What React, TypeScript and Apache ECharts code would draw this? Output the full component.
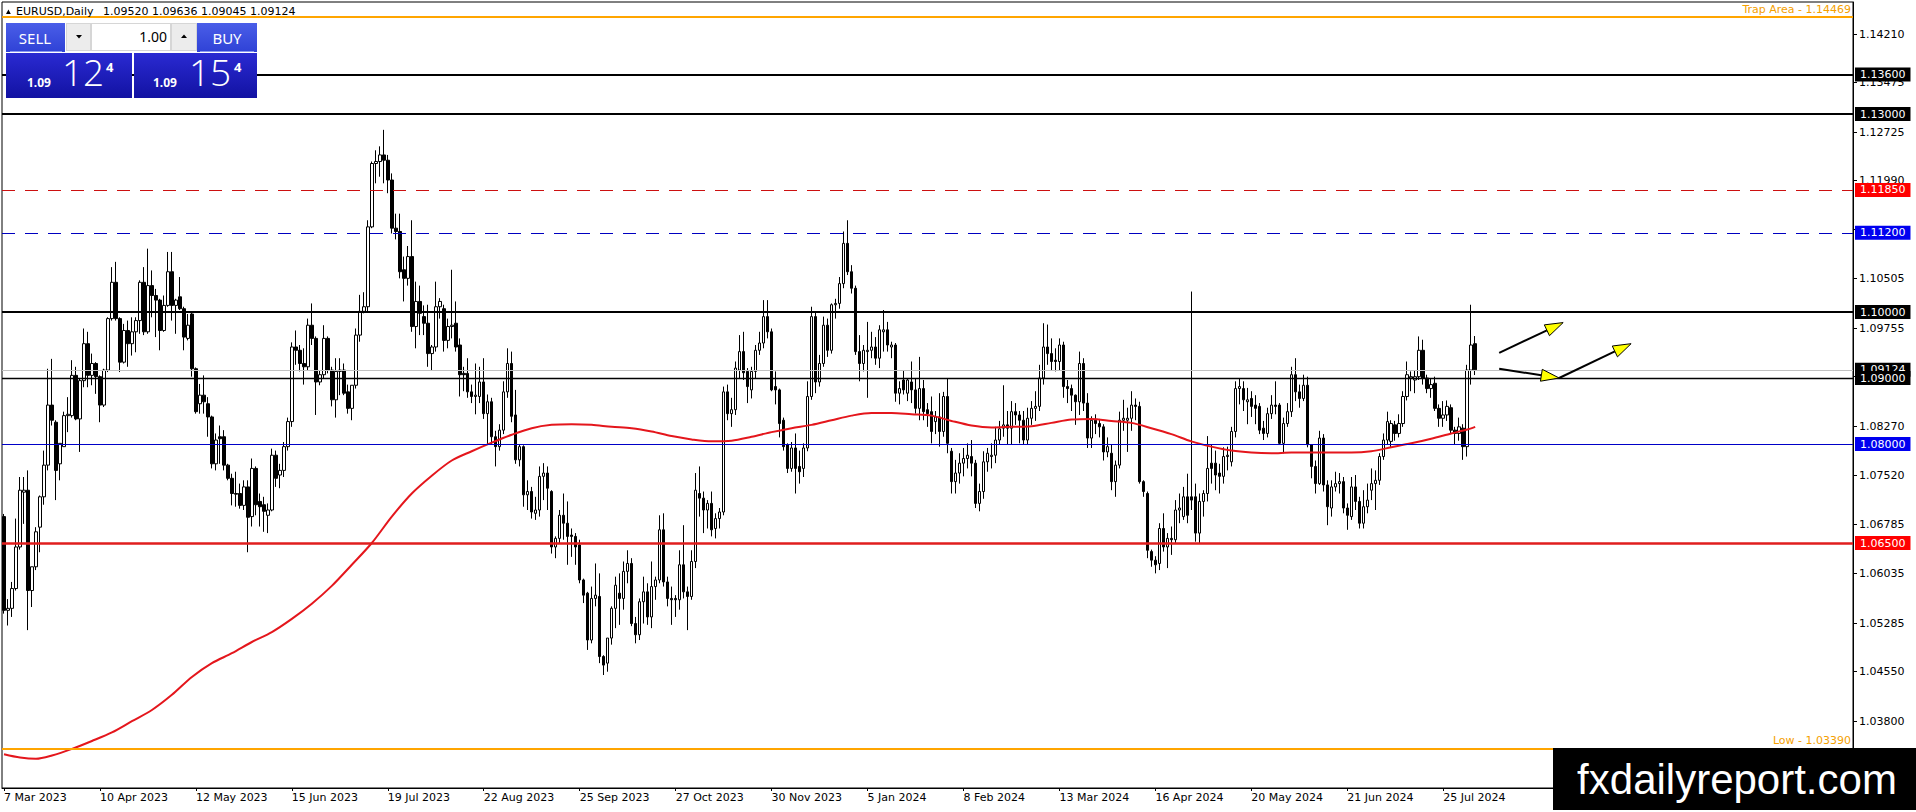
import React, { useEffect, useRef } from "react";
import * as echarts from "echarts";

// ---------------- DATA ----------------
const SYMBOL = "EURUSD,Daily";
const HEADER_QUOTE = "1.09520 1.09636 1.09045 1.09124";
const FIRST_DAY = [2023, 2, 7]; // 7 Mar 2023
const SKIPPED_DAYS = ["2023-12-25", "2024-01-01"];
const LABEL_EVERY = 24;
const TOTAL_SLOTS = 463;

const opens = [
  1.0690,1.0548,1.0551,1.0581,1.0644,1.0727,1.0730,1.0578,1.0614,1.0674,
  1.0720,1.0768,1.0859,1.0833,1.0770,1.0796,1.0843,1.0843,1.0904,1.0838,
  1.0896,1.0952,1.0904,1.0922,1.0902,1.0859,1.0912,1.0990,1.1045,1.0990,
  1.0924,1.0972,1.0952,1.0970,1.0987,1.1045,1.0970,1.1040,1.1025,1.1018,
  1.0972,1.1010,1.1061,1.1010,1.1023,1.1005,1.0960,1.0997,1.0914,1.0861,
  1.0874,1.0861,1.0841,1.0770,1.0811,1.0811,1.0768,1.0748,1.0725,1.0725,
  1.0707,1.0735,1.0690,1.0763,1.0713,1.0708,1.0692,1.0700,1.0783,1.0753,
  1.0760,1.0796,1.0834,1.0947,1.0942,1.0922,1.0917,1.0980,1.0960,1.0894,
  1.0905,1.0960,1.0912,1.0867,1.0910,1.0912,1.0879,1.0854,1.0889,1.0965,
  1.1001,1.1008,1.1129,1.1225,1.1228,1.1238,1.1230,1.1200,1.1127,1.1122,
  1.1064,1.1051,1.1084,1.0978,1.1016,1.0993,1.0983,1.0937,1.0947,1.1008,
  1.1005,1.0957,1.0978,1.0983,1.0950,1.0907,1.0907,1.0879,1.0872,1.0872,
  1.0894,1.0846,1.0864,1.0811,1.0796,1.0821,1.0879,1.0922,1.0844,1.0776,
  1.0796,1.0723,1.0728,1.0695,1.0700,1.0751,1.0756,1.0728,1.0644,1.0657,
  1.0692,1.0680,1.0662,1.0660,1.0647,1.0594,1.0574,1.0503,1.0566,1.0569,
  1.0478,1.0468,1.0506,1.0551,1.0574,1.0566,1.0607,1.0619,1.0528,1.0511,
  1.0561,1.0576,1.0538,1.0584,1.0594,1.0670,1.0591,1.0566,1.0566,1.0564,
  1.0617,1.0576,1.0569,1.0622,1.0725,1.0718,1.0700,1.0710,1.0672,1.0687,
  1.0697,1.0879,1.0846,1.0852,1.0912,1.0940,1.0910,1.0882,1.0910,1.0942,
  1.0953,1.0993,1.0970,1.0887,1.0882,1.0836,1.0799,1.0763,1.0794,1.0766,
  1.0763,1.0794,1.0872,1.0993,1.0894,1.0922,1.0980,1.0942,1.1011,1.1013,
  1.1043,1.1104,1.1061,1.1036,1.0940,1.0922,1.0940,1.0942,1.0947,1.0930,
  1.0970,1.0973,1.0947,1.0950,1.0877,1.0897,1.0877,1.0894,1.0882,1.0854,
  1.0884,1.0852,1.0849,1.0834,1.0841,1.0819,1.0872,1.0789,1.0743,1.0756,
  1.0771,1.0778,1.0781,1.0771,1.0710,1.0728,1.0773,1.0781,1.0783,1.0806,
  1.0824,1.0829,1.0824,1.0849,1.0844,1.0836,1.0806,1.0839,1.0854,1.0857,
  1.0900,1.0947,1.0937,1.0927,1.0925,1.0950,1.0887,1.0884,1.0874,1.0864,
  1.0922,1.0862,1.0809,1.0836,1.0831,1.0826,1.0788,1.0786,1.0743,1.0768,
  1.0836,1.0836,1.0839,1.0859,1.0857,1.0743,1.0725,1.0637,1.0624,1.0619,
  1.0672,1.0644,1.0657,1.0655,1.0700,1.0690,1.0720,1.0720,1.0720,1.0665,
  1.0713,1.0725,1.0771,1.0771,1.0756,1.0751,1.0781,1.0773,1.0819,1.0884,
  1.0884,1.0864,1.0869,1.0859,1.0857,1.0824,1.0816,1.0846,1.0859,1.0859,
  1.0801,1.0831,1.0849,1.0905,1.0879,1.0869,1.0889,1.0799,1.0766,1.0740,
  1.0809,1.0738,1.0703,1.0735,1.0740,1.0743,1.0703,1.0690,1.0735,1.0713,
  1.0680,1.0705,1.0730,1.0740,1.0745,1.0781,1.0806,1.0804,1.0829,1.0816,
  1.0831,1.0872,1.0900,1.0897,1.0902,1.0942,1.0900,1.0884,1.0892,1.0854,
  1.0839,1.0844,1.0855,1.0821,1.0816,1.0824,1.0796,1.0912,1.09520,
];

const highs = [
  1.0694,1.0565,1.0591,1.0687,1.0750,1.0750,1.0760,1.0614,1.0674,1.0722,
  1.0790,1.0914,1.0929,1.0836,1.0801,1.0849,1.0871,1.0927,1.0917,1.0899,
  1.0975,1.0970,1.0937,1.0924,1.0904,1.0914,1.0992,1.1068,1.1076,1.0992,
  1.0982,1.0987,1.0992,1.0992,1.1048,1.1068,1.1096,1.1063,1.1035,1.1020,
  1.1025,1.1091,1.1091,1.1020,1.1053,1.1008,1.0997,1.0999,1.0916,1.0891,
  1.0904,1.0871,1.0843,1.0816,1.0828,1.0821,1.0770,1.0755,1.0758,1.0740,
  1.0745,1.0745,1.0778,1.0766,1.0725,1.0720,1.0710,1.0793,1.0790,1.0770,
  1.0803,1.0840,1.0954,1.0972,1.0950,1.0945,1.0990,1.1013,1.0963,1.0912,
  1.0980,1.0963,1.0917,1.0930,1.0930,1.0922,1.0890,1.0889,1.0975,1.1026,
  1.1030,1.1139,1.1228,1.1245,1.1251,1.1276,1.1238,1.1210,1.1149,1.1149,
  1.1084,1.1100,1.1139,1.1046,1.1040,1.1010,1.1011,1.0950,1.1046,1.1021,
  1.1011,1.0990,1.1064,1.1016,1.0960,1.0917,1.0930,1.0890,1.0922,1.0917,
  1.0930,1.0875,1.0870,1.0820,1.0830,1.0895,1.0945,1.0940,1.0882,1.0800,
  1.0798,1.0745,1.0735,1.0720,1.0766,1.0771,1.0766,1.0730,1.0660,1.0700,
  1.0725,1.0713,1.0672,1.0665,1.0655,1.0596,1.0576,1.0584,1.0619,1.0604,
  1.0480,1.0506,1.0554,1.0599,1.0604,1.0622,1.0639,1.0627,1.0538,1.0566,
  1.0599,1.0589,1.0622,1.0599,1.0692,1.0695,1.0599,1.0584,1.0571,1.0639,
  1.0677,1.0584,1.0639,1.0756,1.0766,1.0728,1.0715,1.0728,1.0695,1.0703,
  1.0887,1.0890,1.0870,1.0925,1.0965,1.0970,1.0915,1.0917,1.0950,1.0970,
  1.1018,1.1018,1.0975,1.0910,1.0884,1.0840,1.0801,1.0803,1.0816,1.0790,
  1.0801,1.0895,1.1008,1.1001,1.0935,1.0993,1.0990,1.1013,1.1020,1.1053,
  1.1122,1.1139,1.1071,1.1040,1.0965,1.0950,1.0985,1.0970,1.0962,1.0980,
  1.1003,1.0985,1.0955,1.0953,1.0895,1.0912,1.0900,1.0925,1.0900,1.0932,
  1.0897,1.0862,1.0872,1.0850,1.0877,1.0879,1.0900,1.0794,1.0776,1.0786,
  1.0794,1.0801,1.0806,1.0776,1.0740,1.0789,1.0794,1.0801,1.0826,1.0835,
  1.0889,1.0850,1.0865,1.0862,1.0850,1.0850,1.0855,1.0865,1.0880,1.0920,
  1.0983,1.0981,1.0960,1.0945,1.0960,1.0955,1.0897,1.0890,1.0875,1.0940,
  1.0930,1.0877,1.0842,1.0845,1.0838,1.0830,1.0810,1.0800,1.0775,1.0849,
  1.0867,1.0855,1.0880,1.0869,1.0864,1.0745,1.0728,1.0640,1.0630,1.0680,
  1.0695,1.0665,1.0675,1.0715,1.0725,1.0735,1.0755,1.1031,1.0740,1.0725,
  1.0730,1.0812,1.0800,1.0790,1.0770,1.0795,1.0796,1.0826,1.0895,1.0900,
  1.0895,1.0885,1.0880,1.0874,1.0862,1.0835,1.0855,1.0874,1.0895,1.0862,
  1.0840,1.0862,1.0917,1.0930,1.0890,1.0905,1.0902,1.0800,1.0775,1.0820,
  1.0815,1.0745,1.0745,1.0758,1.0756,1.0750,1.0710,1.0750,1.0753,1.0720,
  1.0730,1.0740,1.0763,1.0760,1.0786,1.0816,1.0849,1.0836,1.0835,1.0845,
  1.0880,1.0925,1.0910,1.0912,1.0963,1.0958,1.0905,1.0900,1.0902,1.0860,
  1.0865,1.0866,1.0860,1.0826,1.0840,1.0830,1.0920,1.1011,1.09636,
];

const lows = [
  1.0543,1.0525,1.0538,1.0578,1.0640,1.0679,1.0518,1.0553,1.0609,1.0636,
  1.0708,1.0760,1.0828,1.0715,1.0745,1.0796,1.0818,1.0840,1.0836,1.0788,
  1.0886,1.0886,1.0889,1.0876,1.0833,1.0856,1.0909,1.0987,1.0987,1.0909,
  1.0922,1.0917,1.0934,1.0939,1.0967,1.0965,1.0967,1.0992,1.0962,1.0942,
  1.0970,1.1008,1.0987,1.0967,1.1003,1.0942,1.0957,1.0902,1.0846,1.0846,
  1.0846,1.0811,1.0763,1.0760,1.0770,1.0760,1.0745,1.0707,1.0705,1.0702,
  1.0700,1.0636,1.0675,1.0692,1.0675,1.0667,1.0665,1.0698,1.0735,1.0733,
  1.0750,1.0790,1.0826,1.0920,1.0910,1.0890,1.0912,1.0950,1.0844,1.0889,
  1.0900,1.0907,1.0857,1.0840,1.0874,1.0874,1.0846,1.0836,1.0884,1.0955,
  1.0998,1.1001,1.1127,1.1195,1.1205,1.1195,1.1180,1.1119,1.1110,1.1051,
  1.1016,1.1040,1.0970,1.0945,1.0965,1.0965,1.0917,1.0912,1.0940,1.0990,
  1.0940,1.0945,1.0960,1.0940,1.0872,1.0880,1.0870,1.0862,1.0845,1.0862,
  1.0838,1.0800,1.0800,1.0766,1.0790,1.0815,1.0870,1.0833,1.0770,1.0766,
  1.0705,1.0700,1.0687,1.0685,1.0690,1.0715,1.0700,1.0634,1.0627,1.0650,
  1.0655,1.0617,1.0629,1.0617,1.0589,1.0559,1.0488,1.0498,1.0554,1.0468,
  1.0450,1.0455,1.0496,1.0521,1.0526,1.0549,1.0589,1.0524,1.0498,1.0503,
  1.0528,1.0526,1.0521,1.0564,1.0589,1.0584,1.0554,1.0526,1.0538,1.0549,
  1.0566,1.0518,1.0564,1.0612,1.0690,1.0665,1.0672,1.0660,1.0657,1.0672,
  1.0692,1.0836,1.0826,1.0844,1.0900,1.0897,1.0862,1.0869,1.0900,1.0935,
  1.0945,1.0960,1.0880,1.0860,1.0810,1.0790,1.0756,1.0758,1.0725,1.0740,
  1.0750,1.0789,1.0867,1.0877,1.0887,1.0917,1.0932,1.0937,1.0990,1.1005,
  1.1036,1.1056,1.1028,1.0935,1.0895,1.0910,1.0870,1.0930,1.0920,1.0915,
  1.0940,1.0940,1.0930,1.0864,1.0860,1.0875,1.0865,1.0862,1.0846,1.0836,
  1.0836,1.0826,1.0801,1.0815,1.0796,1.0811,1.0786,1.0725,1.0725,1.0740,
  1.0751,1.0763,1.0751,1.0703,1.0698,1.0717,1.0758,1.0763,1.0771,1.0800,
  1.0811,1.0800,1.0799,1.0829,1.0801,1.0799,1.0800,1.0829,1.0835,1.0850,
  1.0890,1.0920,1.0912,1.0910,1.0912,1.0870,1.0862,1.0850,1.0829,1.0844,
  1.0850,1.0794,1.0794,1.0815,1.0810,1.0775,1.0780,1.0730,1.0720,1.0763,
  1.0820,1.0788,1.0820,1.0836,1.0740,1.0720,1.0627,1.0614,1.0604,1.0609,
  1.0637,1.0612,1.0632,1.0650,1.0680,1.0685,1.0680,1.0700,1.0652,1.0650,
  1.0690,1.0713,1.0740,1.0730,1.0725,1.0740,1.0760,1.0766,1.0810,1.0860,
  1.0850,1.0830,1.0841,1.0830,1.0815,1.0806,1.0810,1.0838,1.0845,1.0800,
  1.0786,1.0826,1.0841,1.0865,1.0855,1.0865,1.0795,1.0748,1.0725,1.0738,
  1.0728,1.0677,1.0690,1.0728,1.0725,1.0695,1.0670,1.0685,1.0700,1.0672,
  1.0672,1.0695,1.0715,1.0700,1.0738,1.0776,1.0800,1.0795,1.0805,1.0810,
  1.0826,1.0866,1.0880,1.0877,1.0897,1.0890,1.0877,1.0870,1.0850,1.0826,
  1.0826,1.0835,1.0816,1.0800,1.0805,1.0776,1.0781,1.0890,1.09045,
];

const closes = [
  1.0548,1.0551,1.0581,1.0644,1.0730,1.0730,1.0578,1.0614,1.0667,1.0720,
  1.0768,1.0859,1.0836,1.0760,1.0801,1.0843,1.0845,1.0904,1.0838,1.0896,
  1.0952,1.0904,1.0922,1.0902,1.0859,1.0912,1.0990,1.1045,1.0990,1.0924,
  1.0972,1.0952,1.0970,1.0987,1.1045,1.0970,1.1040,1.1025,1.1018,1.0972,
  1.1010,1.1061,1.1010,1.1018,1.1005,1.0962,1.0980,1.0914,1.0849,1.0874,
  1.0864,1.0841,1.0770,1.0806,1.0808,1.0768,1.0748,1.0725,1.0724,1.0707,
  1.0735,1.0689,1.0763,1.0708,1.0705,1.0698,1.0700,1.0783,1.0748,1.0760,
  1.0796,1.0834,1.0947,1.0942,1.0922,1.0917,1.0980,1.0960,1.0894,1.0905,
  1.0960,1.0912,1.0867,1.0910,1.0912,1.0877,1.0854,1.0889,1.0965,1.1001,
  1.1008,1.1129,1.1225,1.1228,1.1238,1.1230,1.1200,1.1127,1.1122,1.1061,
  1.1051,1.1084,1.0978,1.1016,1.0998,1.0983,1.0937,1.0947,1.1008,1.1016,
  1.0957,1.0978,1.0980,1.0947,1.0905,1.0905,1.0879,1.0872,1.0874,1.0894,
  1.0846,1.0864,1.0811,1.0796,1.0821,1.0879,1.0922,1.0842,1.0776,1.0796,
  1.0723,1.0728,1.0697,1.0700,1.0751,1.0756,1.0733,1.0644,1.0657,1.0692,
  1.0680,1.0660,1.0660,1.0644,1.0594,1.0571,1.0503,1.0566,1.0571,1.0478,
  1.0465,1.0506,1.0551,1.0586,1.0566,1.0607,1.0619,1.0528,1.0511,1.0561,
  1.0576,1.0538,1.0584,1.0594,1.0670,1.0591,1.0566,1.0564,1.0564,1.0617,
  1.0576,1.0569,1.0622,1.0730,1.0718,1.0700,1.0710,1.0670,1.0687,1.0697,
  1.0879,1.0846,1.0852,1.0915,1.0940,1.0908,1.0887,1.0910,1.0942,1.0953,
  1.0993,1.0970,1.0882,1.0882,1.0831,1.0796,1.0763,1.0794,1.0763,1.0758,
  1.0794,1.0872,1.0993,1.0894,1.0922,1.0980,1.0942,1.1011,1.1013,1.1043,
  1.1104,1.1061,1.1036,1.0940,1.0922,1.0942,1.0942,1.0947,1.0930,1.0973,
  1.0973,1.0950,1.0950,1.0877,1.0884,1.0882,1.0897,1.0882,1.0854,1.0884,
  1.0849,1.0846,1.0819,1.0841,1.0819,1.0872,1.0801,1.0743,1.0756,1.0771,
  1.0778,1.0783,1.0771,1.0710,1.0728,1.0773,1.0786,1.0783,1.0806,1.0823,
  1.0829,1.0824,1.0849,1.0844,1.0836,1.0806,1.0839,1.0854,1.0857,1.0900,
  1.0947,1.0937,1.0925,1.0925,1.0950,1.0887,1.0884,1.0874,1.0864,1.0922,
  1.0862,1.0809,1.0836,1.0831,1.0826,1.0788,1.0796,1.0743,1.0768,1.0836,
  1.0839,1.0839,1.0859,1.0857,1.0743,1.0728,1.0639,1.0624,1.0617,1.0672,
  1.0644,1.0657,1.0655,1.0700,1.0703,1.0720,1.0692,1.0715,1.0665,1.0713,
  1.0725,1.0763,1.0763,1.0753,1.0751,1.0781,1.0783,1.0819,1.0884,1.0887,
  1.0867,1.0867,1.0857,1.0854,1.0821,1.0816,1.0846,1.0859,1.0857,1.0801,
  1.0831,1.0849,1.0905,1.0879,1.0869,1.0889,1.0799,1.0766,1.0740,1.0809,
  1.0738,1.0705,1.0735,1.0740,1.0743,1.0703,1.0692,1.0735,1.0713,1.0680,
  1.0705,1.0715,1.0740,1.0745,1.0781,1.0806,1.0834,1.0831,1.0816,1.0831,
  1.0872,1.0905,1.0902,1.0902,1.0942,1.0900,1.0884,1.0890,1.0854,1.0839,
  1.0844,1.0857,1.0821,1.0816,1.0826,1.0796,1.0912,1.0950,1.09124,
];

// moving average (red) read at sampled bars
const maBars = [
  0,4,8,12,17,22,27,32,37,42,47,52,57,62,67,72,77,82,87,92,97,102,107,112,117,122,127,132,137,142,
  147,152,157,162,167,172,177,182,187,192,197,202,207,212,217,222,227,232,237,242,247,252,257,262,267,272,277,282,287,292,
  297,302,307,312,317,322,327,332,337,342,347,352,357,362,366,368,
];
const maValues = [
  1.0330,1.0325,1.0323,1.0328,1.0338,1.0350,1.0363,1.0380,1.0397,1.0420,
  1.0447,1.0468,1.0483,1.0500,1.0515,1.0535,1.0558,1.0585,1.0617,1.0650,
  1.0690,1.0725,1.0752,1.0775,1.0789,1.0802,1.0814,1.0824,1.0829,1.0830,
  1.0829,1.0826,1.0824,1.0819,1.0812,1.0807,1.0804,1.0805,1.0811,1.0818,
  1.0824,1.0829,1.0836,1.0843,1.0847,1.0847,1.0845,1.0843,1.0835,1.0828,
  1.0825,1.0826,1.0827,1.0832,1.0837,1.0838,1.0835,1.0832,1.0824,1.0815,
  1.0804,1.0796,1.0790,1.0787,1.0786,1.0787,1.0787,1.0787,1.0787,1.0789,
  1.0795,1.0801,1.0808,1.0816,1.0822,1.0826,
];

// right axis ticks, and the labels that are not covered by level boxes / watermark
const priceTicks = [
  1.14210, 1.13475, 1.12725, 1.11990, 1.11255, 1.10505, 1.09755, 1.09020,
  1.08270, 1.07520, 1.06785, 1.06035, 1.05285, 1.04550, 1.03800, 1.03050,
];
const priceTickLabels = [
  1.14210, 1.13475, 1.12725, 1.11990, 1.10505, 1.09755,
  1.08270, 1.07520, 1.06785, 1.06035, 1.05285, 1.04550, 1.03800,
];

// horizontal levels
const TRAP_AREA = 1.14469;
const LOW_LEVEL = 1.03390;
const BID_PRICE = 1.09124;
const blackLevels = [1.13600, 1.13000, 1.10000];
const thinBlackLevel = 1.09000;
const dashedRedLevel = 1.11850;
const dashedBlueLevel = 1.11200;
const blueLevel = 1.08000;
const redLevel = 1.06500;

// drawn arrows: [barFrom, priceFrom, barTo, priceTo]
const arrowFromBars = [374, 374, 389];
const arrowFromPrices = [1.0938, 1.0914, 1.0900];
const arrowToBars = [390, 389, 407];
const arrowToPrices = [1.0984, 1.0900, 1.0952];

// trade panel
const LOT = "1.00";
const SELL_BIG = "12";
const BUY_BIG = "15";
const PRICE_PREFIX = "1.09";
const PIPETTE = "4";
const WATERMARK = "fxdailyreport.com";

// ---------------- BUILD ----------------
const MONTHS = ["Jan", "Feb", "Mar", "Apr", "May", "Jun", "Jul", "Aug", "Sep", "Oct", "Nov", "Dec"];

function buildDates(n: number): string[] {
  const out: string[] = [];
  const d = new Date(Date.UTC(FIRST_DAY[0], FIRST_DAY[1], FIRST_DAY[2]));
  while (out.length < n) {
    const dow = d.getUTCDay();
    const iso = d.toISOString().slice(0, 10);
    if (dow !== 0 && dow !== 6 && SKIPPED_DAYS.indexOf(iso) < 0) {
      out.push(`${d.getUTCDate()} ${MONTHS[d.getUTCMonth()]} ${d.getUTCFullYear()}`);
    }
    d.setUTCDate(d.getUTCDate() + 1);
  }
  return out;
}

const FONT = "DejaVu Sans";

function buildOption() {
  const n = Math.min(opens.length, highs.length, lows.length, closes.length);
  const dates = buildDates(n);
  const categories: string[] = [];
  for (let i = 0; i < TOTAL_SLOTS; i++) categories.push(i < n ? dates[i] : `future-${i}`);

  const candles = [];
  for (let i = 0; i < n; i++) {
    const o = opens[i];
    const c = closes[i];
    candles.push([o, c, Math.min(lows[i], o, c), Math.max(highs[i], o, c)]);
  }
  const maPoints = maBars.map((b, i) => [b, maValues[i]]);
  const arrows = arrowFromBars.map((b, i) => [b, arrowFromPrices[i], arrowToBars[i], arrowToPrices[i]]);

  const showLabel = (index: number) => index % LABEL_EVERY === 0 && index < n;

  const boxLabel = (bg: string, value: number) => ({
    show: true,
    position: "end",
    distance: 2,
    formatter: () => value.toFixed(5),
    color: "#fff",
    backgroundColor: bg,
    fontFamily: FONT,
    fontSize: 11,
    lineHeight: 12,
    padding: [1, 5, 1, 5],
  });

  const markData: any[] = [
    {
      yAxis: TRAP_AREA,
      lineStyle: { color: "#ffa500", width: 2, type: "solid" },
      label: {
        show: true,
        position: "insideEndTop",
        distance: 2,
        formatter: () => `Trap Area - ${TRAP_AREA.toFixed(5)}`,
        color: "#f5a000",
        fontFamily: FONT,
        fontSize: 11,
      },
    },
    {
      yAxis: LOW_LEVEL,
      lineStyle: { color: "#ffa500", width: 2, type: "solid" },
      label: {
        show: true,
        position: "insideEndTop",
        distance: 2,
        formatter: () => `Low - ${LOW_LEVEL.toFixed(5)}`,
        color: "#f5a000",
        fontFamily: FONT,
        fontSize: 11,
      },
    },
    ...blackLevels.map((v) => ({
      yAxis: v,
      lineStyle: { color: "#000", width: 2, type: "solid" },
      label: boxLabel("#000", v),
    })),
    {
      yAxis: dashedRedLevel,
      lineStyle: { color: "#cc1010", width: 1, type: [13, 10] },
      label: boxLabel("#ff0000", dashedRedLevel),
    },
    {
      yAxis: dashedBlueLevel,
      lineStyle: { color: "#0000c0", width: 1, type: [13, 10] },
      label: boxLabel("#0000f0", dashedBlueLevel),
    },
    {
      yAxis: BID_PRICE,
      lineStyle: { color: "#c0c0c0", width: 1, type: "solid" },
      label: boxLabel("#000", BID_PRICE),
    },
    {
      yAxis: thinBlackLevel,
      lineStyle: { color: "#000", width: 1.3, type: "solid" },
      label: boxLabel("#000", thinBlackLevel),
    },
    {
      yAxis: blueLevel,
      lineStyle: { color: "#0000c8", width: 1, type: "solid" },
      label: boxLabel("#0000f0", blueLevel),
    },
    {
      yAxis: redLevel,
      lineStyle: { color: "#e01e1e", width: 2.5, type: "solid" },
      label: boxLabel("#ff0000", redLevel),
    },
  ];

  const Z = 100;
  const panelFont = "Noto Sans";
  const topGrad = new echarts.graphic.LinearGradient(0, 0, 0, 1, [
    { offset: 0, color: "#4a5ee8" },
    { offset: 1, color: "#2f42d6" },
  ]);
  const boxGrad = new echarts.graphic.LinearGradient(0, 0, 0, 1, [
    { offset: 0, color: "#2a2ad2" },
    { offset: 1, color: "#1212a2" },
  ]);

  const graphics: any[] = [
    // header
    { type: "polygon", z: Z, shape: { points: [[6, 14], [8.4, 9.4], [10.8, 14]] }, style: { fill: "#000" } },
    { type: "text", z: Z, x: 16, y: 11, style: { text: SYMBOL, fill: "#000", font: `11px "${FONT}"`, verticalAlign: "middle" } },
    { type: "text", z: Z, x: 103, y: 11, style: { text: HEADER_QUOTE, fill: "#000", font: `11px "${FONT}"`, verticalAlign: "middle" } },
    // sell/buy buttons
    { type: "rect", z: Z, shape: { x: 6, y: 23, width: 59, height: 29 }, style: { fill: topGrad } },
    { type: "rect", z: Z, shape: { x: 197, y: 23, width: 60, height: 29 }, style: { fill: topGrad } },
    { type: "line", z: Z, shape: { x1: 10, y1: 51.5, x2: 62, y2: 51.5 }, style: { stroke: "#8a98f0", lineWidth: 1 } },
    { type: "line", z: Z, shape: { x1: 200, y1: 51.5, x2: 254, y2: 51.5 }, style: { stroke: "#8a98f0", lineWidth: 1 } },
    { type: "text", z: Z, x: 35, y: 38, style: { text: "SELL", fill: "#fff", font: `15px "${panelFont}"`, align: "center", verticalAlign: "middle" } },
    { type: "text", z: Z, x: 227, y: 38, style: { text: "BUY", fill: "#fff", font: `15px "${panelFont}"`, align: "center", verticalAlign: "middle" } },
    // lot spinner
    { type: "rect", z: Z, shape: { x: 66, y: 23, width: 131, height: 28 }, style: { fill: "#d6d6d6" } },
    { type: "rect", z: Z, shape: { x: 67, y: 24, width: 23, height: 26 }, style: { fill: "#ececec" } },
    { type: "rect", z: Z, shape: { x: 92, y: 24, width: 78, height: 26 }, style: { fill: "#fff" } },
    { type: "rect", z: Z, shape: { x: 172, y: 24, width: 24, height: 26 }, style: { fill: "#ececec" } },
    { type: "polygon", z: Z, shape: { points: [[76, 35], [82, 35], [79, 38.5]] }, style: { fill: "#000" } },
    { type: "polygon", z: Z, shape: { points: [[181, 38], [187, 38], [184, 34.5]] }, style: { fill: "#000" } },
    { type: "text", z: Z, x: 167, y: 36, style: { text: LOT, fill: "#000", font: `14px "${panelFont}"`, align: "right", verticalAlign: "middle" } },
    // price boxes
    { type: "rect", z: Z, shape: { x: 6, y: 53, width: 126, height: 45 }, style: { fill: boxGrad } },
    { type: "rect", z: Z, shape: { x: 134, y: 53, width: 123, height: 45 }, style: { fill: boxGrad } },
    { type: "text", z: Z, x: 27, y: 88, style: { text: PRICE_PREFIX, fill: "#fff", font: `bold 12px "${panelFont}"`, verticalAlign: "bottom" } },
    { type: "text", z: Z, x: 62, y: 90, style: { text: SELL_BIG, fill: "#fff", font: `300 37px "Open Sans"`, verticalAlign: "bottom" } },
    { type: "text", z: Z, x: 106, y: 60, style: { text: PIPETTE, fill: "#fff", font: `bold 13px "${panelFont}"`, verticalAlign: "top" } },
    { type: "text", z: Z, x: 153, y: 88, style: { text: PRICE_PREFIX, fill: "#fff", font: `bold 12px "${panelFont}"`, verticalAlign: "bottom" } },
    { type: "text", z: Z, x: 189, y: 90, style: { text: BUY_BIG, fill: "#fff", font: `300 37px "Open Sans"`, verticalAlign: "bottom" } },
    { type: "text", z: Z, x: 234, y: 60, style: { text: PIPETTE, fill: "#fff", font: `bold 13px "${panelFont}"`, verticalAlign: "top" } },
    // watermark
    { type: "rect", z: Z, shape: { x: 1553, y: 748, width: 363, height: 62 }, style: { fill: "#000" } },
    { type: "text", z: Z, x: 1737, y: 779, style: { text: WATERMARK, fill: "#fff", font: `42px "Liberation Sans"`, align: "center", verticalAlign: "middle" } },
  ];

  return {
    animation: false,
    backgroundColor: "#fff",
    grid: {
      left: 2,
      right: 63,
      top: 2,
      bottom: 24,
      show: true,
      borderColor: "#000",
      borderWidth: 1,
      backgroundColor: "#fff",
    },
    xAxis: {
      type: "category",
      data: categories,
      boundaryGap: true,
      axisLine: { show: true, lineStyle: { color: "#000", width: 1 } },
      axisTick: { show: true, alignWithLabel: true, interval: showLabel, length: 3, lineStyle: { color: "#000" } },
      axisLabel: {
        show: true,
        interval: showLabel,
        align: "left",
        margin: 4,
        color: "#000",
        fontFamily: FONT,
        fontSize: 11,
      },
      splitLine: { show: false },
    },
    yAxis: {
      type: "value",
      position: "right",
      min: 1.02788,
      max: 1.14697,
      scale: true,
      axisLine: { show: true, lineStyle: { color: "#000", width: 1 } },
      axisTick: { show: true, length: 4, lineStyle: { color: "#000" }, customValues: priceTicks },
      axisLabel: {
        show: true,
        customValues: priceTickLabels,
        formatter: (v: number) => v.toFixed(5),
        margin: 6,
        color: "#000",
        fontFamily: FONT,
        fontSize: 11,
      },
      splitLine: { show: false },
    },
    series: [
      {
        type: "candlestick",
        data: candles,
        barWidth: 3,
        itemStyle: {
          color: "#fff",
          color0: "#000",
          borderColor: "#000",
          borderColor0: "#000",
          borderWidth: 1,
        },
        markLine: {
          silent: true,
          symbol: ["none", "none"],
          precision: 5,
          animation: false,
          data: markData,
        },
        z: 3,
      },
      {
        type: "line",
        data: maPoints,
        showSymbol: false,
        smooth: 0.3,
        lineStyle: { color: "#e4161c", width: 2 },
        z: 4,
        silent: true,
      },
      {
        type: "custom",
        data: arrows,
        encode: { x: [0, 2], y: [1, 3] },
        clip: false,
        z: 5,
        silent: true,
        renderItem: (params: any, api: any) => {
          const p0 = api.coord([api.value(0), api.value(1)]);
          const p1 = api.coord([api.value(2), api.value(3)]);
          const dx = p1[0] - p0[0];
          const dy = p1[1] - p0[1];
          const len = Math.sqrt(dx * dx + dy * dy) || 1;
          const ux = dx / len;
          const uy = dy / len;
          const nx = -uy;
          const ny = ux;
          const headLen = 18;
          const half = 6;
          const bx = p1[0] - ux * headLen;
          const by = p1[1] - uy * headLen;
          return {
            type: "group",
            children: [
              {
                type: "line",
                shape: { x1: p0[0], y1: p0[1], x2: bx, y2: by },
                style: { stroke: "#000", lineWidth: 2 },
              },
              {
                type: "polygon",
                shape: {
                  points: [
                    [p1[0], p1[1]],
                    [bx + nx * half, by + ny * half],
                    [bx - nx * half, by - ny * half],
                  ],
                },
                style: { fill: "#ffff00", stroke: "#000", lineWidth: 1 },
              },
            ],
          };
        },
      },
    ],
    graphic: { elements: graphics },
  };
}

export default function App() {
  const ref = useRef<HTMLDivElement>(null);
  useEffect(() => {
    if (!ref.current) return;
    const chart = echarts.init(ref.current, null, { renderer: "svg" });
    chart.setOption(buildOption() as any);
    return () => chart.dispose();
  }, []);
  return (
    <div
      ref={ref}
      style={{ position: "fixed", left: 0, top: 0, width: 1916, height: 812, background: "#fff" }}
    />
  );
}
